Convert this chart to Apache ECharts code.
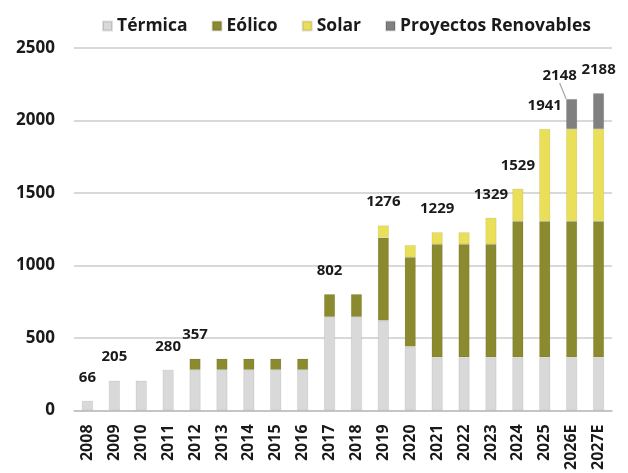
<!DOCTYPE html>
<html>
<head>
<meta charset="utf-8">
<script src="https://cdn.jsdelivr.net/npm/echarts@6/dist/echarts.min.js"></script>
<style>
html,body{margin:0;padding:0;background:#fff;}
#chart{width:628px;height:473px;}
</style>
</head>
<body>
<div id="chart"></div>
<script>
const categories = ['2008','2009','2010','2011','2012','2013','2014','2015','2016','2017','2018','2019','2020','2021','2022','2023','2024','2025','2026E','2027E'];
const termica   = [66,205,205,280,280,280,280,280,280,645,645,620,440,366,366,366,366,366,366,366];
const eolico    = [null,null,null,null,77,77,77,77,77,157,157,572,617,780,780,780,940,940,940,940];
const solar     = [null,null,null,null,null,null,null,null,null,null,null,84,83,83,83,183,223,635,635,635];
const proyectos = [null,null,null,null,null,null,null,null,null,null,null,null,null,null,null,null,null,null,207,247];
const totalLabels = [66,205,null,280,357,null,null,null,null,802,null,1276,null,1229,null,1329,1529,1941,2148,2188];
const yTicks = [0,500,1000,1500,2000,2500];

const FONT = '"Open Sans", "Noto Sans", sans-serif';
const chart = echarts.init(document.getElementById('chart'), null, {renderer:'canvas'});

function stackSeries(name, data, color) {
  return {
    name: name, type: 'bar', stack: 'total', data: data, barWidth: 11,
    itemStyle: { color: color, borderColor: 'rgba(0,0,0,0.12)', borderWidth: 0.6 },
    emphasis: { disabled: true }
  };
}

chart.setOption({
  animation: false,
  textStyle: { fontFamily: FONT },
  legend: {
    data: ['Térmica','Eólico','Solar','Proyectos Renovables'],
    left: 97, top: 12,
    icon: 'rect', itemWidth: 9, itemHeight: 9, itemGap: 24,
    textStyle: { fontFamily: FONT, fontSize: 17.5, fontWeight: 'bold', color: '#1a1a1a' }
  },
  grid: { left: 74, right: 16, top: 48, bottom: 61, containLabel: false },
  xAxis: {
    type: 'category', data: categories,
    axisLine: { show: true, lineStyle: { color: '#bfbfbf', width: 1.5 } },
    axisTick: { show: false },
    axisLabel: { rotate: 90, margin: 14, fontFamily: FONT, fontSize: 16, fontWeight: 'bold', color: '#1a1a1a', interval: 0 }
  },
  yAxis: {
    type: 'value', min: yTicks[0], max: yTicks[yTicks.length-1], interval: 500,
    axisLine: { show: false }, axisTick: { show: false },
    splitLine: { lineStyle: { color: '#cccccc', width: 1.5 } },
    axisLabel: { margin: 19, fontFamily: FONT, fontSize: 17, fontWeight: 'bold', color: '#1a1a1a',
      formatter: function(v){ return String(v); } }
  },
  series: [
    stackSeries('Térmica', termica, '#d9d9d9'),
    stackSeries('Eólico', eolico, '#8b8a2e'),
    stackSeries('Solar', solar, '#eadf58'),
    stackSeries('Proyectos Renovables', proyectos, '#808080'),
    {
      name: 'totales', type: 'bar', barWidth: 11, barGap: '-100%',
      data: totalLabels.map(function(v, i){
        if (categories[i] === '2026E') return { value: v, labelLine: { show: true, lineStyle: { color: '#a6a6a6', width: 1.2 } } };
        return v;
      }),
      itemStyle: { color: 'rgba(0,0,0,0)' },
      emphasis: { disabled: true },
      silent: true,
      z: 10,
      label: {
        show: true, position: 'top', distance: 16,
        fontFamily: FONT, fontSize: 15, fontWeight: 'bold', color: '#1a1a1a',
        formatter: function(p){ return p.value == null ? '' : String(p.value); }
      },
      labelLayout: function(params){
        if (categories[params.dataIndex] === '2026E') return { dx: -12 };
        return {};
      }
    }
  ]
});
</script>
</body>
</html>
